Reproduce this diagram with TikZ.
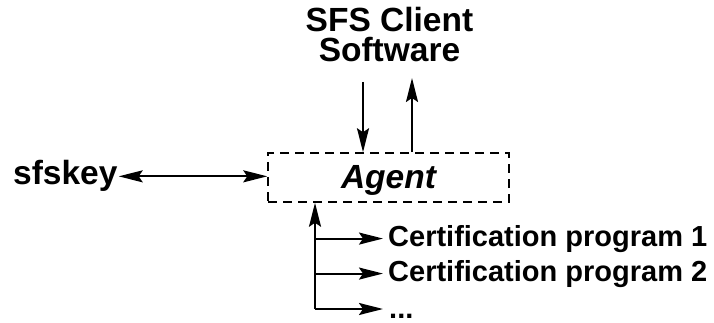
\documentclass[tikz,border=0pt]{standalone}
\usepackage{fontspec}
\setmainfont{Liberation Sans}
\usetikzlibrary{arrows.meta,calc}
\begin{document}
\begin{tikzpicture}[x=1pt,y=-1pt,
  conn/.style={line width=2pt,-{Stealth[length=24pt,width=12pt,inset=4pt]}},
  twoway/.style={line width=2pt,{Stealth[length=24pt,width=12pt,inset=4pt]}-{Stealth[length=24pt,width=12pt,inset=4pt]}},
  bigfont/.style={font=\fontsize{33.5}{30}\selectfont\bfseries},
  smallfont/.style={font=\fontsize{29}{29}\selectfont\bfseries},
  label/.style={inner sep=0pt}]
\useasboundingbox (0,0) rectangle (714,323);

% agent box
\node[draw,dashed,dash pattern=on 9pt off 6pt,line width=1.5pt,
      minimum width=241pt,minimum height=49pt,inner sep=0pt,
      text height=21pt,text depth=0pt,font=\fontsize{33.5}{33.5}\selectfont\bfseries\itshape]
  (agent) at (388.5,177.5) {Agent};

% client software label
\node[label,bigfont,align=center,anchor=north] (client) at (389.5,7) {SFS Client\\Software};

% sfskey
\node[label,bigfont,anchor=base west,inner xsep=1pt] (sfskey) at (12,185) {sfskey};

% certification programs
\node[label,smallfont,anchor=base west,inner xsep=5pt] (cert1) at (383,246) {Certification program 1};
\node[label,smallfont,anchor=base west,inner xsep=5pt] (cert2) at (383,281) {Certification program 2};
\node[label,smallfont,anchor=base west,inner xsep=6pt,text depth=0pt] (dots) at (383,318) {...};

% client <-> agent
\draw[conn] ([xshift=-26.5pt,yshift=-20pt]client.south) -- ([xshift=-26.5pt]client.south |- agent.north);
\draw[conn] ([xshift=22.5pt]client.south |- agent.north) -- ([xshift=22.5pt,yshift=-16pt]client.south);

% sfskey <-> agent
\draw[twoway] (sfskey.east) -- (sfskey.east -| agent.west);

% agent -> certification programs
\coordinate (trunk) at (315,309);
\draw[conn] (trunk) -- (trunk |- agent.south);
\draw[conn] (trunk |- cert1.west) -- (cert1.west);
\draw[conn] (trunk |- cert2.west) -- (cert2.west);
\draw[conn] (trunk) -- (trunk -| cert1.west);
\end{tikzpicture}
\end{document}
